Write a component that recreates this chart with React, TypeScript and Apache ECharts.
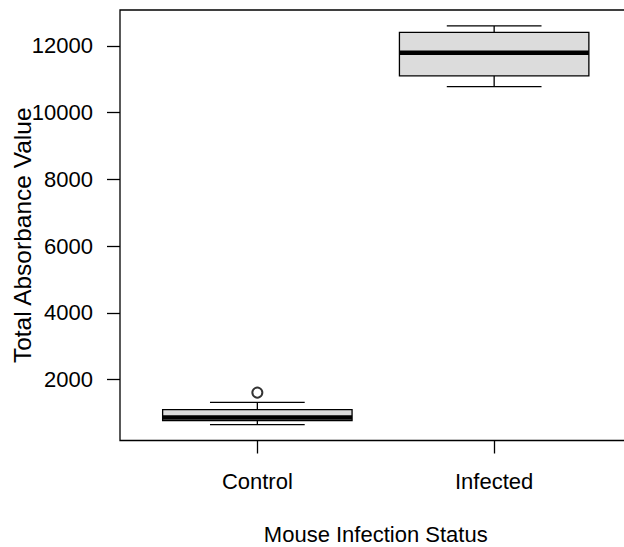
import React, { useEffect, useRef } from "react";
import * as echarts from "echarts";

// Boxplot statistics: [min whisker, Q1, median, Q3, max whisker]
const categories = ["Control", "Infected"];
const controlStats = [650, 770, 860, 1100, 1317];
const infectedStats = [10778, 11100, 11796, 12404, 12596];
const controlOutliers = [1608];
const infectedOutliers: number[] = [];
const yTicks = [2000, 4000, 6000, 8000, 10000, 12000];
const xTitle = "Mouse Infection Status";
const yTitle = "Total Absorbance Value";

const FONT = "'Liberation Sans', Arial, Helvetica, sans-serif";

export default function App() {
  const ref = useRef<HTMLDivElement>(null);
  useEffect(() => {
    if (!ref.current) return;
    const chart = echarts.init(ref.current, undefined, { renderer: "svg" });
    const boxData = [controlStats, infectedStats].map((s, i) => [i + 1, ...s]);
    const outlierData: number[][] = [];
    controlOutliers.forEach((v) => outlierData.push([1, v]));
    infectedOutliers.forEach((v) => outlierData.push([2, v]));

    chart.setOption({
      animation: false,
      textStyle: { fontFamily: FONT },
      grid: {
        left: 120,
        top: 10,
        width: 511.5,
        height: 430.5,
        show: true,
        borderColor: "#000",
        borderWidth: 1.3,
        backgroundColor: "transparent",
        containLabel: false,
        outerBoundsMode: "none",
      },
      xAxis: {
        type: "value",
        min: 0.42,
        max: 2.58,
        axisLine: { show: false },
        splitLine: { show: false },
        axisTick: {
          show: true,
          length: 13,
          customValues: [1, 2],
          lineStyle: { color: "#000", width: 1.3 },
        },
        axisLabel: {
          customValues: [1, 2],
          formatter: (v: number) => categories[Math.round(v) - 1] ?? "",
          color: "#000",
          fontSize: 22,
          fontFamily: FONT,
          margin: 30,
        },
        name: xTitle,
        nameLocation: "middle",
        nameGap: 83,
        nameMoveOverlap: false,
        nameTextStyle: { color: "#000", fontSize: 22, fontFamily: FONT },
      },
      yAxis: {
        type: "value",
        min: 172,
        max: 13074,
        axisLine: { show: false },
        splitLine: { show: false },
        axisTick: {
          show: true,
          length: 13,
          customValues: yTicks,
          lineStyle: { color: "#000", width: 1.3 },
        },
        axisLabel: {
          customValues: yTicks,
          formatter: (v: number) => String(v),
          color: "#000",
          fontSize: 22,
          fontFamily: FONT,
          margin: 27,
        },
        name: yTitle,
        nameLocation: "middle",
        nameGap: 85,
        nameMoveOverlap: false,
        nameTextStyle: {
          color: "#000",
          fontSize: 24.5,
          fontFamily: FONT,
          padding: [0, 20, 0, 0],
        },
      },
      series: [
        {
          type: "custom",
          data: boxData,
          encode: { x: 0, y: [1, 2, 3, 4, 5] },
          renderItem: (params: any, api: any) => {
            const x = api.value(0);
            const lo = api.value(1);
            const q1 = api.value(2);
            const med = api.value(3);
            const q3 = api.value(4);
            const hi = api.value(5);
            const bw = 0.4;
            const sw = 0.2;
            const tl = api.coord([x - bw, q3]);
            const br = api.coord([x + bw, q1]);
            const cLo = api.coord([x, lo]);
            const cHi = api.coord([x, hi]);
            const cQ1 = api.coord([x, q1]);
            const cQ3 = api.coord([x, q3]);
            const sLoL = api.coord([x - sw, lo]);
            const sLoR = api.coord([x + sw, lo]);
            const sHiL = api.coord([x - sw, hi]);
            const sHiR = api.coord([x + sw, hi]);
            const mL = api.coord([x - bw, med]);
            const mR = api.coord([x + bw, med]);
            const lineStyle = { stroke: "#000", lineWidth: 1.3 };
            return {
              type: "group",
              children: [
                { type: "line", shape: { x1: cHi[0], y1: cHi[1], x2: cQ3[0], y2: cQ3[1] }, style: lineStyle },
                { type: "line", shape: { x1: cLo[0], y1: cLo[1], x2: cQ1[0], y2: cQ1[1] }, style: lineStyle },
                { type: "line", shape: { x1: sHiL[0], y1: sHiL[1], x2: sHiR[0], y2: sHiR[1] }, style: lineStyle },
                { type: "line", shape: { x1: sLoL[0], y1: sLoL[1], x2: sLoR[0], y2: sLoR[1] }, style: lineStyle },
                {
                  type: "rect",
                  shape: { x: tl[0], y: tl[1], width: br[0] - tl[0], height: br[1] - tl[1] },
                  style: { fill: "#dcdcdc", stroke: "#000", lineWidth: 1.3 },
                },
                { type: "line", shape: { x1: mL[0], y1: mL[1], x2: mR[0], y2: mR[1] }, style: { stroke: "#000", lineWidth: 4.5 } },
              ],
            };
          },
        },
        {
          type: "scatter",
          data: outlierData,
          symbol: "emptyCircle",
          symbolSize: 10,
          itemStyle: { color: "#000", borderColor: "#000", borderWidth: 1.2 },
        },
      ],
    });
    return () => chart.dispose();
  }, []);
  return (
    <div
      ref={ref}
      style={{ position: "absolute", left: 0, top: 0, width: 624, height: 547 }}
    />
  );
}
